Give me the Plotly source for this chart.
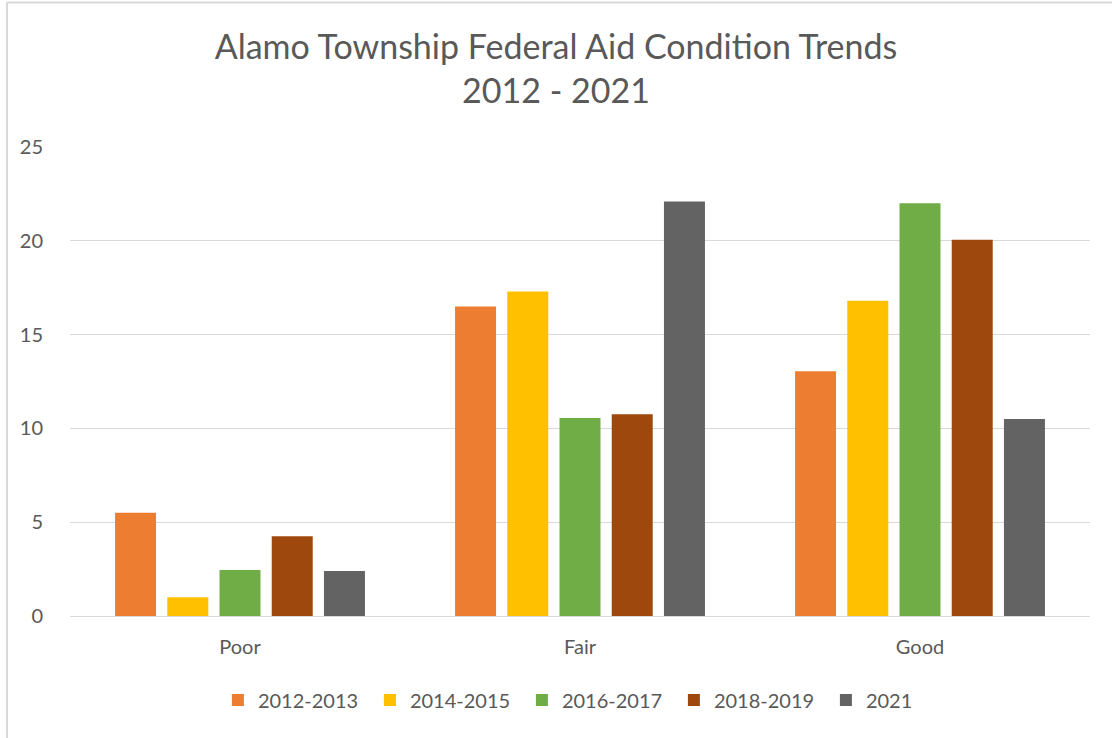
import plotly.graph_objects as go

categories = ["Poor", "Fair", "Good"]
series_names = ["2012-2013", "2014-2015", "2016-2017", "2018-2019", "2021"]
v_2012_2013 = [5.5, 16.5, 13.05]
v_2014_2015 = [1.0, 17.3, 16.8]
v_2016_2017 = [2.45, 10.55, 22.0]
v_2018_2019 = [4.25, 10.75, 20.05]
v_2021 = [2.4, 22.1, 10.5]
series_values = [v_2012_2013, v_2014_2015, v_2016_2017, v_2018_2019, v_2021]
colors = ["#ED7D31", "#FFC000", "#70AD47", "#9E480E", "#636363"]
y_ticks = [0, 5, 10, 15, 20, 25]

FONT = "Lato, 'Open Sans', sans-serif"
TXT = "#595959"

fig = go.Figure()
for name, vals, col in zip(series_names, series_values, colors):
    fig.add_trace(go.Bar(name=name, x=categories, y=vals, marker=dict(color=col, line=dict(width=0))))

fig.update_layout(
    width=1112, height=738,
    barmode="group", bargap=0.232, bargroupgap=0.215,
    paper_bgcolor="white", plot_bgcolor="white",
    margin=dict(l=70, r=22, t=147, b=122),
    title=dict(text="Alamo Township Federal Aid Condition Trends<br>2012 - 2021",
               x=0.5, xanchor="center", y=0.92, yanchor="top",
               font=dict(family=FONT, size=34, color=TXT)),
    font=dict(family=FONT, size=20, color=TXT),
    xaxis=dict(showline=True, linecolor="#D9D9D9", linewidth=1, ticks="",
               tickfont=dict(size=20, color=TXT), showgrid=False,
               ticklabelstandoff=13),
    yaxis=dict(range=[0, 25], tickvals=y_ticks, showgrid=True, gridcolor="#D9D9D9",
               gridwidth=1, zeroline=False, ticks="", ticklen=0,
               tickfont=dict(size=20, color=TXT), ticklabelstandoff=26),
    legend=dict(orientation="h", x=0.145, xanchor="left", y=-0.179, yanchor="middle",
                font=dict(size=20, color=TXT), traceorder="normal",
                itemwidth=30, entrywidth=107),
    showlegend=True,
)
# chart-area border (top and left edges visible in the reference)
fig.add_shape(type="line", xref="paper", yref="paper", x0=-0.0618, x1=1.05, y0=1.308, y1=1.308,
              line=dict(color="#D9D9D9", width=2), layer="below")
fig.add_shape(type="line", xref="paper", yref="paper", x0=-0.0618, x1=-0.0618, y0=1.308, y1=-0.3,
              line=dict(color="#D9D9D9", width=2), layer="below")

fig.write_html("out.html", config={"displayModeBar": False},
               post_script="document.body.style.margin='0';document.body.style.overflow='hidden';")
